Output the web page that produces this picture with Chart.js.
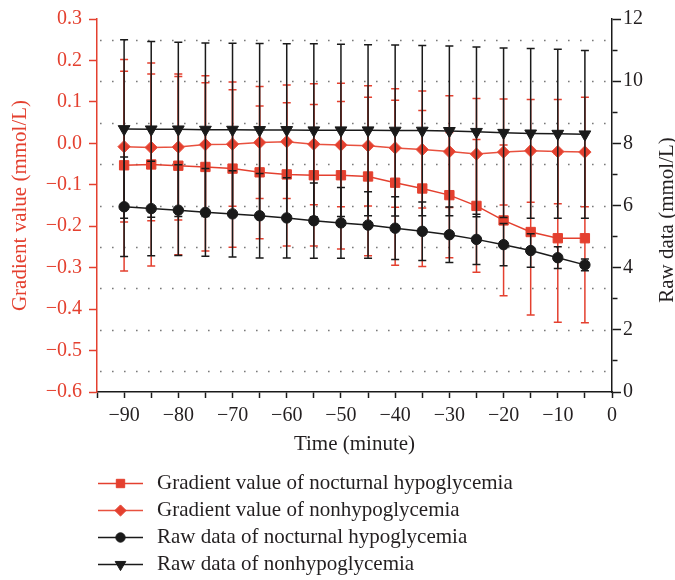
<!DOCTYPE html>
<html>
<head>
<meta charset="utf-8">
<script src="https://cdn.jsdelivr.net/npm/chart.js@4"></script>
<style>
  body { margin: 0; background: #fff; }
  canvas { display: block; }
</style>
</head>
<body>
<canvas id="chart" width="675" height="580"></canvas>
<script>
// Time points (minutes before event)
const times = [-90, -85, -80, -75, -70, -65, -60, -55, -50, -45, -40, -35, -30, -25, -20, -15, -10, -5];

// Gradient values (left axis) with SD
const gradHypo   = [-0.053, -0.051, -0.054, -0.057, -0.061, -0.070, -0.075, -0.077, -0.077, -0.080, -0.095, -0.109, -0.125, -0.151, -0.186, -0.214, -0.229, -0.229];
const gradHypoSD = [0.255, 0.245, 0.215, 0.203, 0.190, 0.160, 0.173, 0.171, 0.178, 0.191, 0.199, 0.188, 0.151, 0.160, 0.182, 0.200, 0.203, 0.204];
const gradNon    = [-0.008, -0.010, -0.009, -0.003, -0.002, 0.002, 0.004, -0.002, -0.004, -0.006, -0.011, -0.015, -0.020, -0.026, -0.021, -0.018, -0.020, -0.021];
const gradNonSD  = [0.182, 0.177, 0.176, 0.166, 0.150, 0.135, 0.137, 0.146, 0.149, 0.145, 0.143, 0.141, 0.135, 0.134, 0.128, 0.124, 0.126, 0.132];

// Raw glucose data (right axis) with SD
const rawHypo   = [5.96, 5.90, 5.85, 5.78, 5.73, 5.67, 5.60, 5.51, 5.44, 5.37, 5.27, 5.17, 5.06, 4.91, 4.74, 4.55, 4.32, 4.09];
const rawHypoSD = [1.60, 1.52, 1.46, 1.41, 1.39, 1.36, 1.29, 1.21, 1.14, 1.07, 1.01, 0.94, 0.89, 0.81, 0.68, 0.54, 0.35, 0.19];
const rawNon    = [8.46, 8.45, 8.45, 8.44, 8.44, 8.43, 8.43, 8.42, 8.42, 8.42, 8.41, 8.41, 8.40, 8.37, 8.34, 8.32, 8.31, 8.29];
const rawNonSD  = [2.87, 2.83, 2.80, 2.79, 2.78, 2.78, 2.77, 2.78, 2.77, 2.75, 2.75, 2.74, 2.73, 2.73, 2.73, 2.73, 2.72, 2.70];

// Dotted reference lines (left axis units)
const gridLevels = [0.25, 0.15, 0.05, -0.05, -0.15, -0.25, -0.35, -0.45, -0.55];

const legendLabels = [
    'Gradient value of nocturnal hypoglycemia',
    'Gradient value of nonhypoglycemia',
    'Raw data of nocturnal hypoglycemia',
    'Raw data of nonhypoglycemia'
];

const RED = '#e4402f';
const RED_LIGHT = '#e8513f';
const BLACK = '#1a1a1a';
const TEXT = '#231f20';
const FONT = "'Liberation Serif', 'Times New Roman', serif";

Chart.defaults.font.family = FONT;
Chart.defaults.color = TEXT;

function minus(s) {
    return String(s).replace('-', '\u2212');
}

function toPoints(values) {
    return times.map((t, i) => ({ x: t, y: values[i] }));
}

// dotted horizontal lines behind the data
const dottedGrid = {
    id: 'dottedGrid',
    beforeDatasetsDraw(chart) {
        const { ctx, chartArea, scales } = chart;
        ctx.save();
        ctx.strokeStyle = '#7a7a7a';
        ctx.lineWidth = 1.6;
        ctx.setLineDash([1.6, 10.4]);
        gridLevels.forEach(v => {
            const y = Math.round(scales.y.getPixelForValue(v)) + 0.5;
            ctx.beginPath();
            ctx.moveTo(chartArea.left + 3, y);
            ctx.lineTo(chartArea.right - 6, y);
            ctx.stroke();
        });
        ctx.restore();
    }
};

// error bars, drawn right before each dataset so its markers sit on top
const errorBars = {
    id: 'errorBars',
    beforeDatasetDraw(chart, args) {
        const ds = chart.data.datasets[args.index];
        if (!ds.errors) return;
        const yScale = chart.scales[ds.yAxisID];
        const ctx = chart.ctx;
        ctx.save();
        ctx.strokeStyle = ds.barColor;
        ctx.lineWidth = 1.5;
        args.meta.data.forEach((pt, i) => {
            const v = ds.data[i].y;
            const e = ds.errors[i];
            const x = pt.x;
            const yTop = yScale.getPixelForValue(v + e);
            const yBot = yScale.getPixelForValue(v - e);
            ctx.beginPath();
            ctx.moveTo(x, yTop);
            ctx.lineTo(x, yBot);
            ctx.moveTo(x - 4, yTop);
            ctx.lineTo(x + 4, yTop);
            ctx.moveTo(x - 4, yBot);
            ctx.lineTo(x + 4, yBot);
            ctx.stroke();
        });
        ctx.restore();
    }
};

// legend below the plot + right axis title (reads bottom to top)
const extras = {
    id: 'extras',
    afterDraw(chart) {
        const ctx = chart.ctx;
        const x0 = chart.chartArea.left + 1;
        ctx.save();
        chart.data.datasets.forEach((ds, row) => {
            const y = 483.5 + row * 27;
            ctx.strokeStyle = ds.borderColor;
            ctx.lineWidth = 1.5;
            ctx.beginPath();
            ctx.moveTo(x0, y);
            ctx.lineTo(x0 + 45, y);
            ctx.stroke();
            ctx.fillStyle = ds.backgroundColor;
            ctx.strokeStyle = ds.backgroundColor;
            ctx.lineWidth = 1;
            Chart.helpers.drawPoint(ctx, {
                pointStyle: ds.pointStyle,
                rotation: ds.rotation || 0,
                radius: ds.pointRadius * 0.9,
                borderWidth: 1
            }, x0 + 22.5, y);
            ctx.fillStyle = TEXT;
            ctx.font = '21px ' + FONT;
            ctx.textAlign = 'left';
            ctx.textBaseline = 'middle';
            ctx.fillText(ds.label, x0 + 59, y);
        });

        ctx.translate(667, 220);
        ctx.rotate(-Math.PI / 2);
        ctx.fillStyle = TEXT;
        ctx.font = '21px ' + FONT;
        ctx.textAlign = 'center';
        ctx.textBaseline = 'middle';
        ctx.fillText('Raw data (mmol/L)', 0, 0);
        ctx.restore();
    }
};

const ctx = document.getElementById('chart');
new Chart(ctx, {
    type: 'line',
    data: {
        datasets: [
            {
                label: legendLabels[0],
                data: toPoints(gradHypo),
                errors: gradHypoSD,
                barColor: RED,
                yAxisID: 'y',
                borderColor: RED,
                backgroundColor: RED,
                borderWidth: 1.5,
                pointStyle: 'rect',
                pointRadius: 6.6,
                pointBorderWidth: 1,
                order: 3
            },
            {
                label: legendLabels[1],
                data: toPoints(gradNon),
                errors: gradNonSD,
                barColor: RED,
                yAxisID: 'y',
                borderColor: RED_LIGHT,
                backgroundColor: RED,
                borderWidth: 1.5,
                pointStyle: 'rectRot',
                pointRadius: 6.2,
                pointBorderWidth: 1,
                order: 2
            },
            {
                label: legendLabels[2],
                data: toPoints(rawHypo),
                errors: rawHypoSD,
                barColor: BLACK,
                yAxisID: 'y1',
                borderColor: BLACK,
                backgroundColor: BLACK,
                borderWidth: 1.5,
                pointStyle: 'circle',
                pointRadius: 5.2,
                pointBorderWidth: 1,
                order: 1
            },
            {
                label: legendLabels[3],
                data: toPoints(rawNon),
                errors: rawNonSD,
                barColor: BLACK,
                yAxisID: 'y1',
                borderColor: BLACK,
                backgroundColor: BLACK,
                borderWidth: 1.5,
                pointStyle: 'triangle',
                rotation: 180,
                pointRadius: 6.8,
                pointBorderWidth: 1,
                order: 0
            }
        ]
    },
    options: {
        responsive: false,
        animation: false,
        devicePixelRatio: 1,
        layout: {
            padding: { top: 14, right: 0, bottom: 122, left: 0 }
        },
        plugins: {
            legend: { display: false },
            tooltip: { enabled: false }
        },
        scales: {
            x: {
                type: 'linear',
                min: -95,
                max: 0,
                ticks: {
                    stepSize: 5,
                    autoSkip: false,
                    maxRotation: 0,
                    color: TEXT,
                    padding: 6,
                    font: { size: 20 },
                    callback: v => (v % 10 === 0 ? minus(v) : '')
                },
                grid: {
                    drawOnChartArea: false,
                    tickLength: 6,
                    tickWidth: 1.5,
                    tickColor: BLACK
                },
                border: { color: BLACK, width: 1.5 },
                title: {
                    display: true,
                    text: 'Time (minute)',
                    color: TEXT,
                    font: { size: 21 },
                    padding: { top: 0, bottom: 1 }
                },
                afterFit: s => { s.height = 66; }
            },
            y: {
                position: 'left',
                min: -0.6,
                max: 0.3,
                ticks: {
                    stepSize: 0.1,
                    color: RED,
                    padding: 7,
                    font: { size: 20 },
                    callback: v => (Math.abs(v) < 1e-9 ? '0.0' : minus(v.toFixed(1)))
                },
                grid: {
                    drawOnChartArea: false,
                    tickLength: 8,
                    tickWidth: 1.5,
                    tickColor: RED
                },
                border: { color: RED, width: 1.5 },
                title: {
                    display: true,
                    text: 'Gradient value (mmol/L)',
                    color: RED,
                    font: { size: 21 },
                    padding: { top: 8, bottom: 0 }
                },
                afterFit: s => { s.width = 97; }
            },
            y1: {
                position: 'right',
                min: 0,
                max: 12,
                ticks: {
                    stepSize: 1,
                    autoSkip: false,
                    color: TEXT,
                    padding: 2,
                    font: { size: 20 },
                    callback: v => (v % 2 === 0 ? v : '')
                },
                grid: {
                    drawOnChartArea: false,
                    tickLength: 9,
                    tickWidth: 1.5,
                    tickColor: BLACK,
                    tickBorderDash: c => (c.tick && c.tick.value % 2 ? [5, 20] : [])
                },
                border: { color: BLACK, width: 1.5 },
                afterFit: s => { s.width = 63; }
            }
        }
    },
    plugins: [dottedGrid, errorBars, extras]
});
</script>
</body>
</html>
